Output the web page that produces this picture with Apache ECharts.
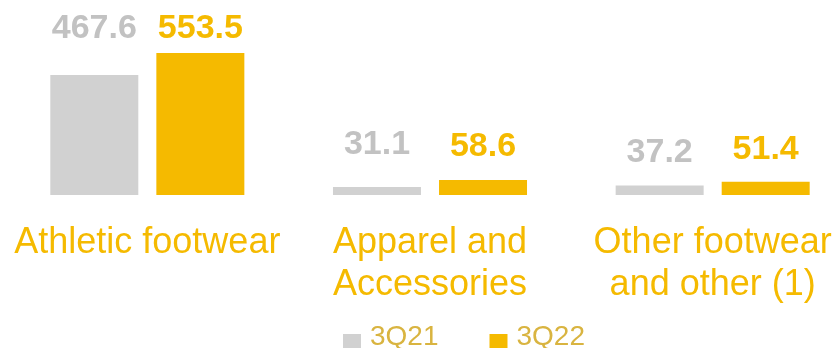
<!DOCTYPE html>
<html>
<head>
<meta charset="utf-8">
<script src="https://cdn.jsdelivr.net/npm/echarts@6/dist/echarts.min.js"></script>
<style>
  html, body { margin: 0; padding: 0; background: #fff; }
  #chart { width: 836px; height: 348px; }
</style>
</head>
<body>
<div id="chart"></div>
<script>
// data
var categories = ["Athletic footwear", "Apparel and\nAccessories", "Other footwear\nand other (1)"];
var seriesNames = ["3Q21", "3Q22"];
var values3Q21 = [467.6, 31.1, 37.2];
var values3Q22 = [553.5, 58.6, 51.4];

// label gap above each bar (px)
var gap3Q21 = [29, 25, 16];
var gap3Q22 = [7, 16, 15];

var GRAY = "#d1d1d1";
var YELLOW = "#f5ba00";
var FONT = "Liberation Sans";

function withGaps(values, gaps) {
  return values.map(function (v, i) {
    return { value: v, label: { distance: gaps[i] } };
  });
}

var chartDom = document.getElementById("chart");
var chart = echarts.init(chartDom);

var option = {
  animation: false,
  grid: {
    left: 6,
    right: -18,
    top: 41,
    bottom: 153,
    outerBoundsMode: "none",
    containLabel: false,
  },
  legend: {
    left: 343,
    top: 322,
    padding: 0,
    itemWidth: 18,
    itemHeight: 30,
    itemGap: 51,
    icon: "path://M0,0M0,12L18,12L18,30L0,30Z",
    textStyle: {
      fontFamily: FONT,
      fontSize: 28,
      color: "#d9b440",
      padding: [0, 0, 0, 4],
    },
    data: seriesNames,
  },
  xAxis: {
    type: "category",
    data: categories,
    axisLine: { show: false },
    axisTick: { show: false },
    axisLabel: {
      interval: 0,
      margin: 27,
      fontFamily: FONT,
      fontSize: 36,
      lineHeight: 42,
      color: YELLOW,
    },
  },
  yAxis: {
    type: "value",
    min: 0,
    max: 600,
    show: false,
    splitLine: { show: false },
  },
  series: [
    {
      name: seriesNames[0],
      type: "bar",
      barWidth: 88,
      barGap: "20.5%",
      itemStyle: { color: GRAY },
      label: {
        show: true,
        position: "top",
        fontFamily: FONT,
        fontWeight: "bold",
        fontSize: 34,
        color: "#c2c2c2",
      },
      data: withGaps(values3Q21, gap3Q21),
    },
    {
      name: seriesNames[1],
      type: "bar",
      barWidth: 88,
      itemStyle: { color: YELLOW },
      label: {
        show: true,
        position: "top",
        fontFamily: FONT,
        fontWeight: "bold",
        fontSize: 34,
        color: YELLOW,
      },
      data: withGaps(values3Q22, gap3Q22),
    },
  ],
};

chart.setOption(option);
</script>
</body>
</html>
